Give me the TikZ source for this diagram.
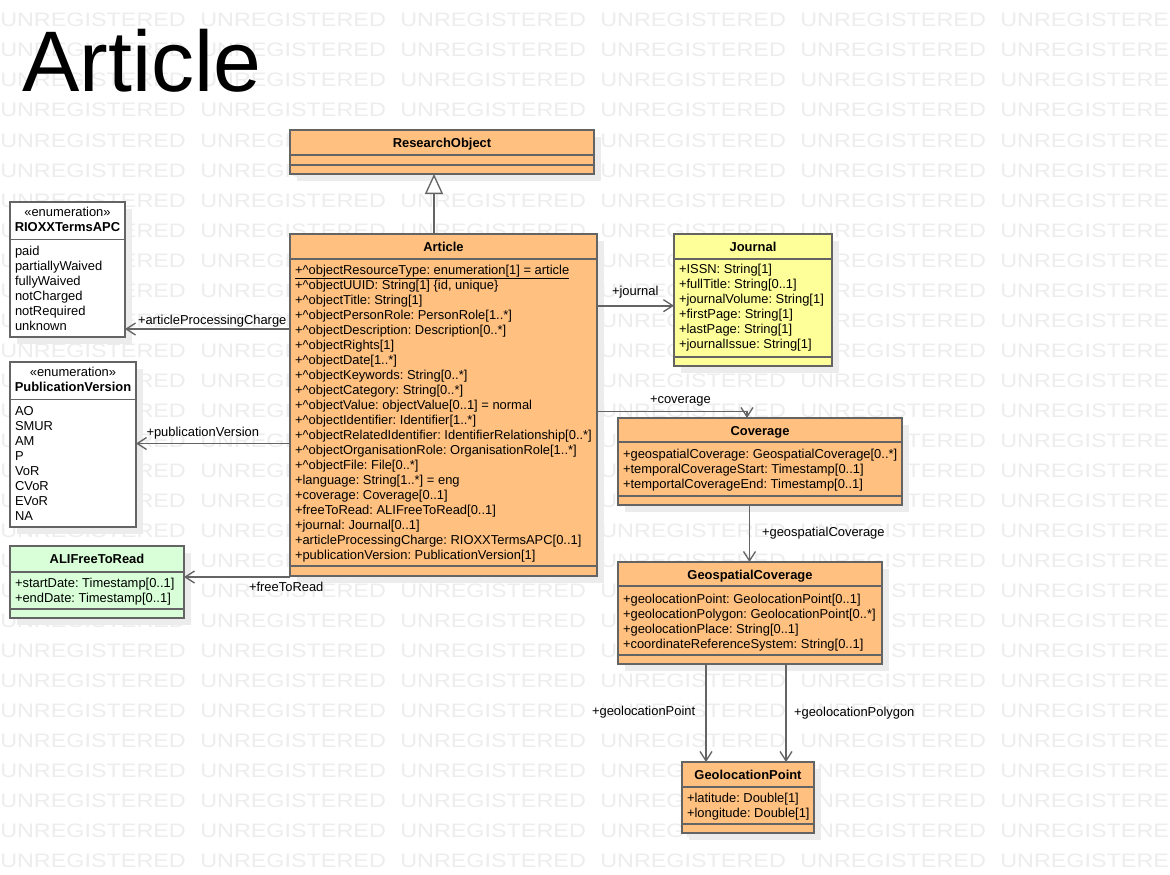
\documentclass[tikz,border=0pt]{standalone}
\usepackage{fontspec}
\setmainfont{Liberation Sans}
\newfontfamily\wmfont[FakeStretch=1.2]{Liberation Sans}
\usetikzlibrary{arrows.meta,calc}
\definecolor{orangefill}{HTML}{FFC080}
\definecolor{yellowfill}{HTML}{FFFF99}
\definecolor{greenfill}{HTML}{D8FFD8}
\definecolor{edgec}{HTML}{646464}
\definecolor{wmark}{HTML}{EDEDED}
\definecolor{shadec}{HTML}{ECECEC}
\newcommand{\crt}{\textasciicircum}
\newcommand{\umlbox}[6]{%
  \fill[shadec] (#2+7,#3+7) rectangle (#4+7,#5+7);
  \node[umlrect,fill=#6,minimum width={(#4-#2)*0.75pt},minimum height={(#5-#3)*0.75pt}] (#1) at ({(#2+#4)/2},{(#3+#5)/2}) {};}
\newcommand{\sepat}[2]{\draw[sepl] ($(#1.north west)+(0,#2)$) -- ($(#1.north east)+(0,#2)$);}
\newcommand{\attrs}[4]{\foreach \t [count=\i] in {#4} {\node[txt,anchor=base west] (#1-\i) at (#2,{#3+15*(\i-1)}) {\t};}}
\frenchspacing
\begin{document}
\begin{tikzpicture}[x=0.75pt,y=-0.75pt,
  umlrect/.style={draw=edgec,line width=1.2pt,inner sep=0pt,outer sep=0pt,rectangle},
  txt/.style={inner sep=0pt,outer sep=0pt,font=\fontsize{9.7}{11}\selectfont,text=black},
  hdr/.style={txt,font=\fontsize{9.7}{11}\selectfont\bfseries,anchor=base},
  sepl/.style={draw=edgec,line width=1.2pt},
  assoc/.style={draw=edgec,line width=1.2pt,-{Straight Barb[length=7pt,width=9pt,line width=1pt]}},
  gen/.style={draw=edgec,line width=1.2pt,-{Triangle[length=15pt,width=13.5pt,fill=white,line width=1pt]}},
  wm/.style={inner sep=0pt,font=\wmfont\fontsize{14.6}{15}\selectfont,text=wmark,anchor=base west}
]
\useasboundingbox (0,0) rectangle (1170,874);
\fill[white] (0,0) rectangle (1170,874);
\begin{scope}
\clip (0,0) rectangle (1170,874);
\foreach \r in {0,...,28} {\foreach \c in {0,...,5} {\node[wm] (wm-\r-\c) at (200*\c,{27+30*\r}) {UNREGISTERED};}}
\end{scope}

\node[inner sep=0pt,anchor=base west,font=\fontsize{64.5}{64.5}\selectfont] (title) at (22,92) {Article};

% ResearchObject
\umlbox{research}{290}{130}{594}{174}{orangefill}
\sepat{research}{25}\sepat{research}{35}
\node[hdr] (research-h) at (442,147) {ResearchObject};

% Article
\umlbox{article}{290}{234}{597}{576}{orangefill}
\sepat{article}{25}\sepat{article}{332}
\node[hdr] (article-h) at (443.5,251) {Article};
\node[txt,anchor=base west] (article-0) at (295,274) {\underline{+\crt objectResourceType: enumeration[1] = article}};
\attrs{article}{295}{289}{{+\crt objectUUID: String[1] \{id, unique\}},
 +\crt objectTitle: String[1],
 +\crt objectPersonRole: PersonRole[1..*],
 +\crt objectDescription: Description[0..*],
 +\crt objectRights[1],
 +\crt objectDate[1..*],
 +\crt objectKeywords: String[0..*],
 +\crt objectCategory: String[0..*],
 +\crt objectValue: objectValue[0..1] = normal,
 +\crt objectIdentifier: Identifier[1..*],
 +\crt objectRelatedIdentifier: IdentifierRelationship[0..*],
 +\crt objectOrganisationRole: OrganisationRole[1..*],
 +\crt objectFile: File[0..*],
 +language: String[1..*] = eng,
 +coverage: Coverage[0..1],
 +freeToRead: ALIFreeToRead[0..1],
 +journal: Journal[0..1],
 +articleProcessingCharge: RIOXXTermsAPC[0..1],
 +publicationVersion: PublicationVersion[1]}

% Journal
\umlbox{journal}{674}{234}{832}{366}{yellowfill}
\sepat{journal}{25}\sepat{journal}{123}
\node[hdr] (journal-h) at (753,251) {Journal};
\attrs{journal}{679}{273.5}{+ISSN: String[1],+fullTitle: String[0..1],+journalVolume: String[1],+firstPage: String[1],+lastPage: String[1],+journalIssue: String[1]}

% Coverage
\umlbox{coverage}{618}{418}{902}{505}{orangefill}
\sepat{coverage}{24}\sepat{coverage}{78}
\node[hdr] (coverage-h) at (760,435) {Coverage};
\attrs{coverage}{623}{458}{+geospatialCoverage: GeospatialCoverage[0..*],+temporalCoverageStart: Timestamp[0..1],+temportalCoverageEnd: Timestamp[0..1]}

% GeospatialCoverage
\umlbox{geocov}{618}{562}{882}{664}{orangefill}
\sepat{geocov}{24}\sepat{geocov}{93}
\node[hdr] (geocov-h) at (750,579) {GeospatialCoverage};
\attrs{geocov}{623}{603}{+geolocationPoint: GeolocationPoint[0..1],+geolocationPolygon: GeolocationPoint[0..*],+geolocationPlace: String[0..1],+coordinateReferenceSystem: String[0..1]}

% GeolocationPoint
\umlbox{geopoint}{682}{762}{814}{833}{orangefill}
\sepat{geopoint}{25}\sepat{geopoint}{62}
\node[hdr] (geopoint-h) at (748,779.5) {GeolocationPoint};
\attrs{geopoint}{687}{802}{+latitude: Double[1],+longitude: Double[1]}

% RIOXXTermsAPC
\umlbox{rioxx}{10}{202}{125}{337}{white}
\sepat{rioxx}{37.5}
\node[txt,anchor=base] (rioxx-s) at (67.5,216.5) {«enumeration»};
\node[hdr] (rioxx-h) at (67.5,231.5) {RIOXXTermsAPC};
\attrs{rioxx}{15}{255}{paid,partiallyWaived,fullyWaived,notCharged,notRequired,unknown}

% PublicationVersion
\umlbox{pubver}{10}{362}{136}{527}{white}
\sepat{pubver}{37.5}
\node[txt,anchor=base] (pubver-s) at (73,376.5) {«enumeration»};
\node[hdr] (pubver-h) at (73,391.5) {PublicationVersion};
\attrs{pubver}{15}{415.5}{AO,SMUR,AM,P,VoR,CVoR,EVoR,NA}

% ALIFreeToRead
\umlbox{ali}{10}{546}{184}{618}{greenfill}
\sepat{ali}{26}\sepat{ali}{63}
\node[hdr] (ali-h) at (97,563.5) {ALIFreeToRead};
\attrs{ali}{15}{587}{+startDate: Timestamp[0..1],+endDate: Timestamp[0..1]}

% Connectors
\coordinate (ygen) at (434,0);
\draw[gen] (article.north -| ygen) -- (research.south -| ygen);

\coordinate (yapc) at (0,329);
\draw[assoc] (article.west |- yapc) -- (rioxx.east |- yapc);
\node[txt,anchor=base west] (l-apc) at (138,324.5) {+articleProcessingCharge};

\coordinate (ypv) at (0,443.5);
\draw[assoc] (article.west |- ypv) -- (pubver.east |- ypv);
\node[txt,anchor=base west] (l-pv) at (146.5,436) {+publicationVersion};

\coordinate (yftr) at (0,577);
\draw[assoc] (article.west |- yftr) -- (ali.east |- yftr);
\node[txt,anchor=base west] (l-ftr) at (249,591) {+freeToRead};

\coordinate (yj) at (0,305.7);
\draw[assoc] (article.east |- yj) -- (journal.west |- yj);
\node[txt,anchor=base west] (l-j) at (612,295) {+journal};

\coordinate (cv) at (747,411.5);
\draw[assoc] (article.east |- cv) -| (coverage.north -| cv);
\node[txt,anchor=base west] (l-cv) at (650,403) {+coverage};

\coordinate (gs) at (749.5,0);
\draw[assoc] (coverage.south -| gs) -- (geocov.north -| gs);
\node[txt,anchor=base west] (l-gs) at (762,536.5) {+geospatialCoverage};

\coordinate (gp) at (706,0);
\draw[assoc] (geocov.south -| gp) -- (geopoint.north -| gp);
\node[txt,anchor=base west] (l-gp) at (592,715) {+geolocationPoint};

\coordinate (gpol) at (786,0);
\draw[assoc] (geocov.south -| gpol) -- (geopoint.north -| gpol);
\node[txt,anchor=base west] (l-gpol) at (794,716) {+geolocationPolygon};
\end{tikzpicture}
\end{document}
